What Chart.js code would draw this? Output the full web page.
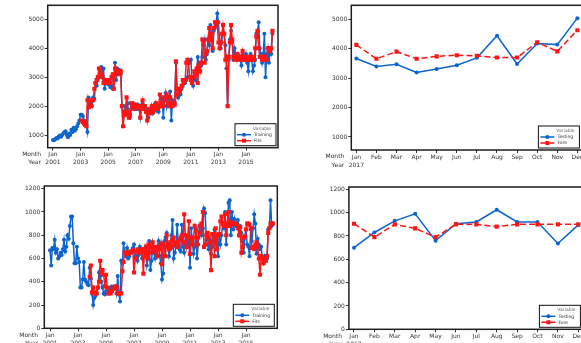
<!DOCTYPE html>
<html>
<head>
<meta charset="utf-8">
<script src="https://cdn.jsdelivr.net/npm/chart.js@4.4.0/dist/chart.umd.min.js"></script>
<style>
  html, body { margin: 0; padding: 0; background: #fff; }
  body { width: 581px; height: 343px; overflow: hidden; position: relative; }
  canvas { position: absolute; }
</style>
</head>
<body>
<canvas id="topLeft" width="290" height="175" style="left:0;top:0"></canvas>
<canvas id="topRight" width="300" height="175" style="left:290px;top:0"></canvas>
<canvas id="bottomLeft" width="290" height="180" style="left:0;top:175px"></canvas>
<canvas id="bottomRight" width="300" height="180" style="left:290px;top:175px"></canvas>
<script>
// ---- data: monthly history Jan 2001 .. Dec 2016 (index 0..191) ----
const yearTicks = [0, 24, 48, 72, 96, 120, 144, 168];
const yearLabels = ['2001', '2003', '2005', '2007', '2009', '2011', '2013', '2015'];
const months2017 = ['Jan', 'Feb', 'Mar', 'Apr', 'May', 'Jun', 'Jul', 'Aug', 'Sep', 'Oct', 'Nov', 'Dec'];

const topTraining = [
  830, 820, 860, 900, 880, 950, 980, 940, 1000, 1060, 1100, 1130,
  1000, 920, 1050, 1000, 1180, 1100, 1250, 1150, 1200, 1300, 1400, 1500,
  1700, 1700, 1650, 1500, 1450, 1300, 1100, 2300, 2000, 2100, 2000, 2300,
  2250, 2800, 2700, 2900, 3000, 3300, 3350, 3000, 3300, 2600, 2900, 2800,
  2750, 2900, 2650, 2700, 2600, 2900, 3500, 2900, 3300, 3200, 3250, 3100,
  2000, 1300, 1800, 2000, 1850, 2100, 1700, 1600, 1900, 2000, 2100, 1900,
  2000, 1900, 2050, 1900, 1600, 2000, 2100, 1950, 2000, 1900, 1800, 1600,
  1900, 1800, 2000, 1750, 1900, 2100, 1850, 2000, 1800, 2000, 2250, 2300,
  1600, 2200, 2450, 2000, 2300, 2200, 2500, 1500, 2200, 2100, 2150, 3500,
  2600, 2300, 2500, 2400, 2600, 2700, 2900, 2800, 2900, 3000, 3600, 3500,
  3600, 2900, 2700, 3000, 2900, 3200, 3700, 3300, 3500, 3400, 3700, 4100,
  4300, 3600, 3800, 4300, 4100, 4800, 4300, 3900, 4600, 4700, 4900, 5200,
  4900, 4200, 4000, 4200, 4800, 4500, 4100, 3300, 2000, 3600, 4300, 4600,
  4200, 3600, 4000, 3800, 3600, 3800, 3700, 3600, 3400, 3800, 3700, 3600,
  3800, 3500, 3200, 3700, 3800, 3600, 3200, 3400, 3600, 4500, 4400, 4900,
  4000, 3800, 3500, 3800, 4500, 3000, 3800, 4000, 3500, 3900, 3800, 4500
];
const topFitsStart = 25;
const topFits = [
  1500, 1450, 1400, 1350, 1300, 2200, 1950, 2050, 2000, 2200, 2200,
  2600, 2800, 2900, 3000, 3300, 3250, 3100, 3000, 2800, 2900, 2800, 2900,
  2800, 2900, 2800, 3000, 3100, 2600, 3300, 3100, 3200, 3200, 3100, 3200,
  2000, 1300, 1800, 1700, 2300, 1800, 1600, 1700, 2100, 2000, 2000, 1900,
  2050, 1950, 2000, 2000, 1600, 2000, 2200, 1900, 2000, 1800, 1500, 1800,
  1900, 1750, 2000, 1800, 1900, 2000, 2100, 1900, 2000, 2400, 2000, 2100,
  2000, 2300, 2200, 2400, 2100, 2000, 2300, 2100, 2000, 2100, 2050, 3550,
  2400, 2600, 2500, 2600, 2700, 2900, 2800, 2900, 3500, 3600, 3500, 3000,
  2900, 2800, 3000, 3200, 3100, 3300, 2800, 3400, 3200, 3500, 4300, 4200,
  3500, 3800, 3900, 4300, 4700, 4300, 4500, 4000, 4700, 4900, 4800, 4900,
  4200, 4000, 4200, 4500, 4800, 4500, 3600, 3700, 2000, 3700, 4200, 4800,
  4300, 3700, 3600, 3700, 3800, 3600, 3700, 3600, 3700, 3900, 3600, 3700,
  3600, 3600, 3700, 3600, 3600, 3700, 3600, 3600, 4000, 4400, 4600, 4000,
  3700, 3700, 3600, 3700, 3600, 3700, 3600, 4000, 4000, 3900, 4000, 4600
];
const topTesting = [3670, 3400, 3470, 3190, 3310, 3440, 3690, 4440, 3480, 4180, 4140, 5040];
const topFore = [4130, 3660, 3900, 3660, 3740, 3780, 3760, 3700, 3700, 4220, 3910, 4630];

const bottomTraining = [
  670, 540, 690, 680, 760, 650, 680, 600, 620, 650, 630, 680,
  760, 660, 700, 800, 770, 880, 960, 960, 730, 560, 560, 700,
  600, 570, 350, 350, 420, 570, 420, 400, 380, 370, 520, 430,
  300, 200, 260, 280, 300, 350, 480, 450, 400, 350, 300, 290,
  320, 330, 300, 320, 350, 360, 340, 350, 360, 300, 450, 300,
  230, 580, 560, 730, 650, 620, 690, 600, 620, 650, 660, 690,
  720, 620, 650, 580, 630, 700, 650, 600, 680, 660, 700, 540,
  600, 750, 500, 580, 700, 650, 600, 680, 700, 750, 620, 560,
  420, 470, 750, 780, 820, 700, 620, 680, 800, 930, 600, 650,
  700, 890, 700, 680, 660, 890, 700, 650, 800, 720, 700, 780,
  520, 860, 750, 640, 700, 830, 600, 720, 880, 840, 800, 860,
  1030, 990, 760, 720, 680, 760, 640, 700, 800, 850, 780, 720,
  620, 800, 720, 800, 900, 860, 1000, 720, 900, 1080, 1100, 800,
  1000, 850, 940, 880, 900, 930, 870, 880, 820, 750, 650, 780,
  850, 720, 700, 620, 850, 750, 860, 980, 900, 640, 770, 720,
  680, 700, 600, 560, 620, 580, 600, 850, 860, 1100, 880, 900
];
const bottomFitsStart = 34;
const bottomFits = [
  440, 540,
  310, 350, 300, 310, 300, 350, 400, 580, 480, 500, 460, 360,
  460, 350, 300, 310, 300, 320, 340, 350, 360, 350, 300, 300,
  300, 300, 490, 570, 650, 650, 650, 640, 660, 650, 660, 670,
  480, 600, 660, 680, 650, 670, 660, 680, 470, 680, 620, 700,
  600, 720, 700, 650, 740, 690, 700, 660, 620, 700, 680, 730,
  550, 720, 700, 620, 800, 720, 680, 740, 700, 760, 780, 720,
  740, 700, 720, 760, 780, 800, 740, 980, 800, 700, 780, 920,
  640, 770, 720, 780, 880, 850, 720, 780, 820, 880, 900, 1000,
  700, 720, 800, 820, 780, 740, 500, 810, 810, 620, 860, 680,
  800, 810, 920, 960, 900, 880, 980, 800, 900, 1000, 880, 900,
  910, 900, 900, 900, 890, 860, 800, 870, 650, 700, 780, 790,
  850, 900, 900, 890, 860, 690, 700, 680, 720, 740, 700, 600,
  460, 620, 600, 560, 600, 580, 620, 820, 860, 900, 900, 900
];
const bottomTesting = [700, 830, 930, 990, 760, 905, 920, 1025, 920, 920, 735, 895];
const bottomFore = [905, 790, 900, 865, 790, 900, 900, 880, 900, 900, 900, 900];

const FONT = 'DejaVu Sans';
const INK = '#333333';
const BLUE = '#0c64cf';
const RED = '#ff1414';

// frame, Month/Year captions and the in-plot legend box
const panelDeco = {
  id: 'panelDeco',
  afterDraw(chart, args, opts) {
    const { ctx, chartArea: a, scales } = chart;
    ctx.save();
    ctx.strokeStyle = '#1e1e1e';
    ctx.lineWidth = 1.5;
    ctx.strokeRect(a.left, a.top, a.right - a.left, a.bottom - a.top);

    const capX = scales.x.getPixelForValue(scales.x.ticks[0].value) - 12;
    ctx.font = `6px "${FONT}"`;
    ctx.fillStyle = INK;
    ctx.textAlign = 'right';
    ctx.textBaseline = 'middle';
    ctx.fillText('Month', capX, a.bottom + 6.8);
    ctx.fillText('Year', capX, a.bottom + 15);

    const w = 41, h = 22;
    const r = a.right - opts.inset, b = a.bottom - 2, l = r - w, t = b - h;
    ctx.fillStyle = '#fff';
    ctx.fillRect(l, t, w, h);
    ctx.strokeStyle = '#111';
    ctx.lineWidth = 1;
    ctx.strokeRect(l, t, w, h);
    ctx.font = `4.5px "${FONT}"`;
    ctx.textAlign = 'center';
    ctx.fillStyle = '#666';
    ctx.fillText('Variable', l + 27, t + 4.8);
    ctx.textAlign = 'left';
    chart.data.datasets.forEach((ds, i) => {
      const y = t + 11 + i * 6;
      ctx.strokeStyle = ds.borderColor;
      ctx.lineWidth = 1.5;
      ctx.setLineDash(ds.borderDash || []);
      ctx.beginPath();
      ctx.moveTo(l + 2, y);
      ctx.lineTo(l + 16, y);
      ctx.stroke();
      ctx.setLineDash([]);
      ctx.fillStyle = ds.borderColor;
      if (ds.pointStyle === 'rect') {
        ctx.fillRect(l + 7, y - 2, 4, 4);
      } else {
        ctx.beginPath();
        ctx.arc(l + 9, y, 2, 0, Math.PI * 2);
        ctx.fill();
      }
      ctx.fillStyle = INK;
      ctx.fillText(ds.label, l + 19, y + 0.3);
    });
    ctx.restore();
  }
};

function series(values, start) {
  return values.map((v, i) => ({ x: start + i, y: v }));
}

function makePanel(id, p) {
  const tickFont = { family: FONT, size: 6, lineHeight: 1.35 };
  new Chart(document.getElementById(id), {
    type: 'line',
    data: {
      datasets: [
        {
          label: p.names[0], data: p.blue, order: 2,
          borderColor: BLUE, backgroundColor: BLUE, borderWidth: 1.5,
          pointStyle: 'circle', pointRadius: 2, pointBorderWidth: 0
        },
        {
          label: p.names[1], data: p.red, order: 1,
          borderColor: RED, backgroundColor: RED, borderWidth: 1.5, borderDash: p.dash,
          pointStyle: 'rect', pointRadius: 2.9, pointBorderWidth: 0
        }
      ]
    },
    options: {
      responsive: false,
      animation: false,
      events: [],
      layout: { padding: { top: p.top, right: p.right, left: 0, bottom: 0 } },
      elements: { line: { tension: 0 } },
      plugins: {
        legend: { display: false },
        tooltip: { enabled: false },
        panelDeco: { inset: p.inset }
      },
      scales: {
        x: {
          type: 'linear',
          min: p.xMin,
          max: p.xMax,
          afterBuildTicks: (s) => { s.ticks = p.xTicks.map((v) => ({ value: v })); },
          afterFit: (s) => { s.height = p.xHeight; },
          ticks: { callback: p.xLabel, font: tickFont, color: INK, padding: 0, maxRotation: 0, autoSkip: false },
          grid: { drawOnChartArea: false, tickLength: 3, tickColor: INK },
          border: { display: false }
        },
        y: {
          type: 'linear',
          min: p.yMin,
          max: p.yMax,
          afterBuildTicks: (s) => { s.ticks = p.yTicks.map((v) => ({ value: v })); },
          afterFit: (s) => { s.width = p.yWidth; },
          ticks: { callback: (v) => String(v), font: tickFont, color: INK, padding: 1 },
          grid: { drawOnChartArea: false, tickLength: 3, tickColor: INK },
          border: { display: false }
        }
      }
    },
    plugins: [panelDeco]
  });
}

const historyLabel = (v, i) => ['Jan', yearLabels[i]];
const forecastLabel = (v, i) => (i === 0 ? [months2017[i], '2017'] : months2017[i]);
const monthIdx = months2017.map((m, i) => i);

makePanel('topLeft', {
  names: ['Training', 'Fits'],
  blue: series(topTraining, 0), red: series(topFits, topFitsStart), dash: [],
  xMin: -4.6, xMax: 195.85, xTicks: yearTicks, xLabel: historyLabel,
  yMin: 561, yMax: 5484, yTicks: [1000, 2000, 3000, 4000, 5000],
  top: 5.3, right: 12, yWidth: 47.7, xHeight: 27.3, inset: 2
});
makePanel('topRight', {
  names: ['Testing', 'Fore'],
  blue: series(topTesting, 0), red: series(topFore, 0), dash: [6, 3],
  xMin: -0.25, xMax: 11.25, xTicks: monthIdx, xLabel: forecastLabel,
  yMin: 558, yMax: 5476, yTicks: [1000, 2000, 3000, 4000, 5000],
  top: 5.3, right: 7.6, yWidth: 61.3, xHeight: 25, inset: 3
});
makePanel('bottomLeft', {
  names: ['Training', 'Fits'],
  blue: series(bottomTraining, 0), red: series(bottomFits, bottomFitsStart), dash: [],
  xMin: -4.9, xMax: 194.8, xTicks: yearTicks, xLabel: historyLabel,
  yMin: 0, yMax: 1223, yTicks: [0, 200, 400, 600, 800, 1000, 1200],
  top: 11, right: 12.7, yWidth: 44.3, xHeight: 26.7, inset: 3
});
makePanel('bottomRight', {
  names: ['Testing', 'Fore'],
  blue: series(bottomTesting, 0), red: series(bottomFore, 0), dash: [6, 3],
  xMin: -0.25, xMax: 11.25, xTicks: monthIdx, xLabel: forecastLabel,
  yMin: 0, yMax: 1220, yTicks: [0, 200, 400, 600, 800, 1000, 1200],
  top: 12, right: 6.6, yWidth: 58.9, xHeight: 25.7, inset: 3
});
</script>
</body>
</html>
